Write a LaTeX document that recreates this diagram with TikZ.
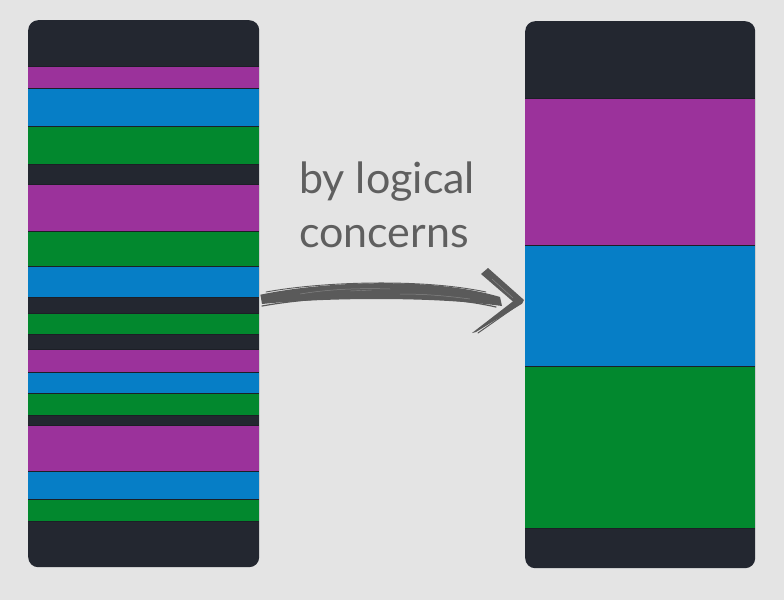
\documentclass[tikz,border=0pt]{standalone}
\usepackage{fontspec}
\usetikzlibrary{calc}
\setmainfont{Lato}
\definecolor{bg}{HTML}{E4E4E4}
\definecolor{slate}{HTML}{232730}
\definecolor{plum}{HTML}{9B329B}
\definecolor{sky}{HTML}{067EC6}
\definecolor{leaf}{HTML}{02882E}
\definecolor{ink}{HTML}{5A5A5A}
\definecolor{label}{HTML}{5F5F5F}
\tikzset{
  column/.style={fill=slate, rounded corners=10pt, inner sep=0pt, draw=none},
  band/.style={fill=#1},
  seam/.style={draw=slate!80!black, line width=0.7pt},
  brush/.style={fill=ink},
  bristle/.style={draw=ink, line width=#1, line cap=round},
  gap/.style={draw=bg, line width=#1, line cap=round, opacity=0.3},
}
\begin{document}
\begin{tikzpicture}[x=1pt,y=-1pt]
  % canvas
  \fill[bg] (0,0) rectangle (784,600);
  \useasboundingbox (0,0) rectangle (784,600);

  % the two columns
  \node[column, minimum width=231pt, minimum height=547pt, anchor=north west] (before) at (28,20) {};
  \node[column, minimum width=230pt, minimum height=547pt, anchor=north west] (after) at (525,21) {};

  % interleaved bands in the left column
  \foreach \ya/\yb/\c in {66/88/plum, 88/126/sky, 126/164/leaf,
                          184/231/plum, 231/266/leaf, 266/297/sky,
                          313/334/leaf, 349/372/plum, 372/393/sky, 393/415/leaf,
                          425/471/plum, 471/499/sky, 499/521/leaf}{
    \fill[band=\c] (28,\ya) rectangle (259,\yb);
  }
  \foreach \y in {66,88,126,164,184,231,266,297,313,334,349,372,393,415,425,471,499,521}{
    \draw[seam] (28,\y) -- (259,\y);
  }

  % grouped bands in the right column
  \foreach \ya/\yb/\c in {98/245/plum, 245/366/sky, 366/528/leaf}{
    \fill[band=\c] (525,\ya) rectangle (755,\yb);
  }
  \foreach \y in {98,245,366,528}{
    \draw[seam] (525,\y) -- (755,\y);
  }

  % caption (base anchor sits on the last line)
  \node[anchor=base west, align=left, text=label, inner sep=0pt,
        font=\fontsize{43}{54}\selectfont] (caption) at (299,247)
        {by logical\\concerns};

  % brush-stroke arrow
  \coordinate (tail) at ($(before.east)+(1,4)$);
  \coordinate (tip) at ($(after.west)+(-3,9)$);
  \fill[brush] (tail) ++(0,-3) .. controls (320,282) and (430,276) .. (500,297)
        -- (502,306) .. controls (430,296) and (320,298) .. (262,304) -- cycle;
  \draw[bristle=1.2] (262,306) .. controls (330,294) and (430,292) .. (496,307);
  \draw[bristle=0.9] (266,292) .. controls (320,282) and (420,278) .. (486,292);
  \draw[gap=0.5] (300,294) .. controls (330,289) and (360,288) .. (390,289);
  \draw[gap=0.5] (400,294) .. controls (420,294) and (440,295) .. (470,299);
  \draw[gap=0.4] (350,291) -- (372,290);
  % arrow head strokes
  \fill[brush] (481,274) -- (488,268) -- (524,300) -- (tip) -- (517,305) -- cycle;
  \fill[brush] (tip) -- (516,299) -- (472,333) -- (476,332) -- cycle;
  \draw[bristle=1.0] (518,305) -- (478,333);
  \draw[gap=0.5] (492,279) -- (513,298);
\end{tikzpicture}
\end{document}
